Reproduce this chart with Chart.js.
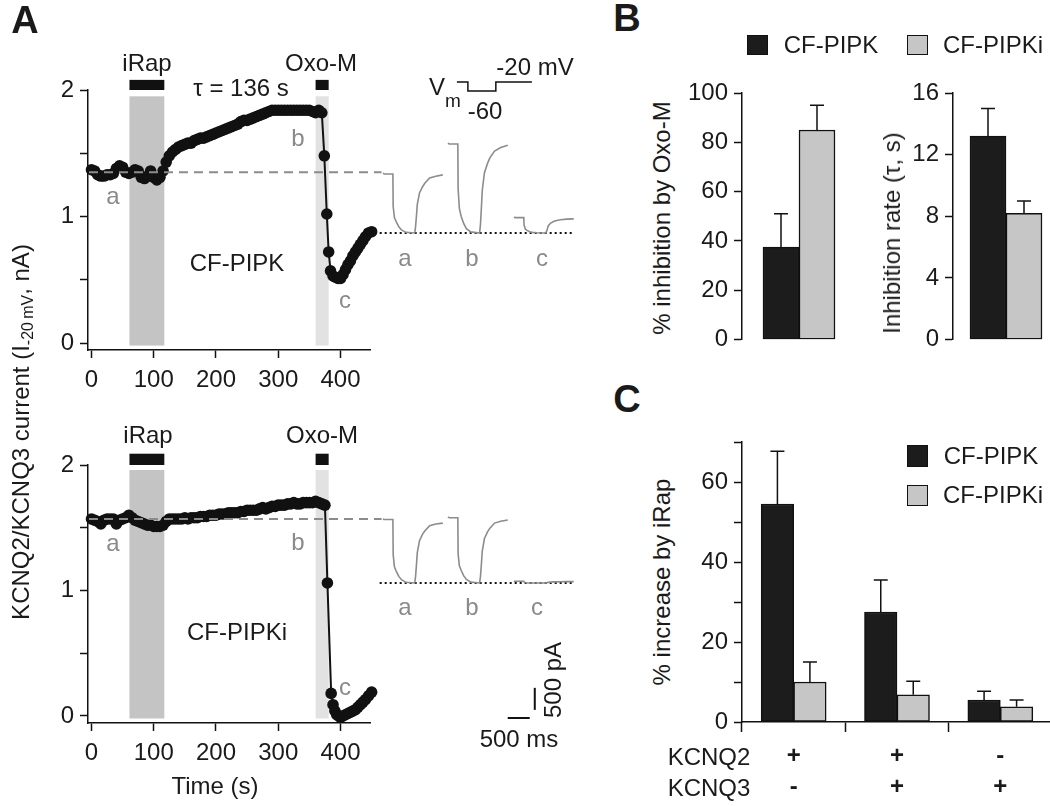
<!DOCTYPE html>
<html>
<head>
<meta charset="utf-8">
<script src="https://cdn.jsdelivr.net/npm/chart.js"></script>
<style>
  html, body { margin: 0; padding: 0; background: #fff; overflow: hidden; }
  body { width: 1050px; height: 806px; position: relative; font-family: "Liberation Sans", Arial, sans-serif; color: #1a1a1a; }
  canvas { position: absolute; }
  .t { position: absolute; white-space: nowrap; transform: translate(-50%, -50%); font-size: 24px; line-height: 1; }
  .rot { transform: translate(-50%, -50%) rotate(-90deg); }
  .gray { color: #8a8a8a; }
  .small { font-size: 19px; }
  .panel { font-weight: bold; font-size: 38px; }
  .sw { position: absolute; box-sizing: border-box; border: 1.5px solid #111; }
  sub { font-size: 16px; vertical-align: -4px; }
</style>
</head>
<body>
<script>
// ---- panel A: current time course (nA) ----
const timeTop = [0,5,10,15,20,25,30,35,40,45,50,55,60,65,70,75,80,85,90,95,100,105,110,115,120,125,130,135,140,145,150,155,160,165,170,175,180,185,190,195,200,205,210,215,220,225,230,235,240,245,250,255,260,265,270,275,280,285,290,295,300,305,310,315,320,325,330,335,340,345,350,355,360,365,370,374,378,381,384,388,392,396,400,404,408,412,416,420,424,428,432,436,440,445,450];
const currTop = [1.37,1.36,1.33,1.32,1.32,1.33,1.33,1.34,1.38,1.40,1.39,1.35,1.34,
  1.35,1.37,1.36,1.31,1.30,1.32,1.36,1.31,1.29,1.31,1.36,
  1.43,1.48,1.51,1.53,1.55,1.56,1.57,1.58,1.58,1.60,1.61,1.62,1.62,1.63,1.64,1.65,1.66,
  1.67,1.68,1.69,1.70,1.71,1.72,1.73,1.75,1.76,1.76,1.77,1.78,1.79,1.80,1.81,1.82,1.83,1.84,1.84,
  1.84,1.84,1.84,1.84,1.84,1.84,1.84,1.84,1.84,1.84,1.84,1.83,1.82,1.84,1.82,
  1.48,1.02,0.72,0.57,0.53,0.52,0.51,0.51,0.54,0.58,0.62,0.65,0.69,0.72,0.75,0.78,0.81,0.84,0.87,0.88];
const timeBot = [0,5,10,15,20,25,30,35,40,45,50,55,60,65,70,75,80,85,90,95,100,105,110,115,120,125,130,135,140,145,150,155,160,165,170,175,180,185,190,195,200,205,210,215,220,225,230,235,240,245,250,255,260,265,270,275,280,285,290,295,300,305,310,315,320,325,330,335,340,345,350,355,360,365,370,375,379,385,388,391,394,397,400,404,408,412,416,420,424,428,432,436,440,445,450];
const currBot = [1.57,1.56,1.55,1.53,1.56,1.57,1.57,1.57,1.53,1.56,1.57,1.58,1.60,
  1.58,1.56,1.55,1.54,1.53,1.52,1.52,1.51,1.51,1.51,1.52,1.55,
  1.57,1.57,1.57,1.57,1.57,1.58,1.57,1.58,1.58,1.58,1.59,1.59,1.59,1.60,1.60,1.60,
  1.61,1.61,1.61,1.62,1.62,1.62,1.62,1.63,1.63,1.64,1.64,1.64,1.64,1.65,1.66,1.65,1.66,1.67,1.67,1.68,
  1.68,1.68,1.69,1.69,1.70,1.69,1.69,1.70,1.70,1.70,1.70,1.71,1.70,1.69,1.68,
  1.06,0.18,0.09,0.04,0.01,0.00,-0.01,0.00,0.01,0.02,0.03,0.04,0.05,0.07,0.09,0.11,0.13,0.16,0.19];
const baselineTop = 1.35;
const baselineBot = 1.57;
const iRapWindow = [61, 117];   // s
const oxoWindow = [360, 381];   // s
const xTicksA = [0, 100, 200, 300, 400];
const yTicksA = [0, 0.5, 1, 1.5, 2];
const yLabelsA = [0, 1, 2];

// ---- panel A insets: current traces (ms, pA above the dotted level) ----
const traceT = [0, 30, 225, 232, 260, 300, 360, 420, 520, 720, 740, 760, 780, 830, 900, 950, 1060, 1200, 1360];
const traceTopA = [1360, 1340, 1340, 600, 350, 260, 140, 70, 15, 0, 135, 380, 650, 910, 1050, 1130, 1250, 1290, 1320];
const traceTopB = [2040, 2020, 2020, 1000, 560, 380, 210, 100, 25, 0, 200, 560, 960, 1370, 1580, 1700, 1860, 1940, 1990];
const traceTopC = [360, 350, 350, 180, 90, 60, 30, 15, 5, 0, 30, 90, 160, 220, 260, 280, 300, 315, 320];
const traceBotA = [1450, 1440, 1440, 640, 370, 270, 150, 75, 15, 0, 140, 400, 690, 960, 1110, 1180, 1300, 1340, 1360];
const traceBotB = [1500, 1480, 1480, 660, 390, 290, 160, 80, 20, 0, 150, 420, 720, 1010, 1160, 1240, 1360, 1400, 1430];
const traceBotC = [40, 40, 40, 20, 10, 5, 0, 0, 0, 0, 5, 10, 15, 20, 25, 25, 28, 30, 30];
const traceStart = [295, 1771, 3270];     // ms, where each sweep sits
const dottedSpan = [220, 4650];
const vmTime = [1975, 2225, 2225, 2860, 2860, 3680];
const vmLevel = [-20, -20, -60, -60, -20, -20];
const barMs = [3130, 3630];      // 500 ms
const barPa = [-2880, -2380];    // 500 pA

// ---- panel B ----
const inhibPct = [37.5, 85];
const inhibPctSem = [13.5, 10];
const inhibTau = [13.2, 8.2];
const inhibTauSem = [1.8, 0.8];

// ---- panel C ----
const kcnqLabels = [['+', '-'], ['+', '+'], ['-', '+']];
const incPipk = [54.5, 27.5, 5.5];
const incPipkSem = [13.2, 8.0, 2.2];
const incPipki = [10, 6.8, 3.8];
const incPipkiSem = [5.0, 3.4, 1.7];

const BLACK = '#1c1c1c';
const GRAY = '#c6c6c6';
const TRACE = '#8c8c8c';

Chart.defaults.font.family = '"Liberation Sans", Arial, sans-serif';
Chart.defaults.font.size = 24;
Chart.defaults.color = '#1a1a1a';
Chart.defaults.animation = false;
Chart.defaults.plugins.legend.display = false;
Chart.defaults.plugins.tooltip.enabled = false;

function makeCanvas(left, top, w, h) {
    const c = document.createElement('canvas');
    c.width = w; c.height = h;
    c.style.left = left + 'px'; c.style.top = top + 'px';
    c.style.width = w + 'px'; c.style.height = h + 'px';
    document.body.appendChild(c);
    return c.getContext('2d');
}

function text(html, x, y, cls) {
    const d = document.createElement('div');
    d.className = 't ' + (cls || '');
    d.innerHTML = html;
    d.style.left = x + 'px'; d.style.top = y + 'px';
    document.body.appendChild(d);
}

function swatch(x, y, w, h, color) {
    const d = document.createElement('div');
    d.className = 'sw';
    d.style.left = x + 'px'; d.style.top = y + 'px';
    d.style.width = w + 'px'; d.style.height = h + 'px';
    d.style.background = color;
    document.body.appendChild(d);
}

function yAxis(min, max, ticks, labelled, width) {
    return {
        min, max,
        afterBuildTicks: s => { s.ticks = ticks.map(v => ({ value: v })); },
        afterFit: s => { s.width = width; },
        ticks: { padding: 6, callback: v => labelled.includes(v) ? String(v) : '' },
        grid: { drawOnChartArea: false, drawTicks: true, tickLength: 8, tickWidth: 1.5, tickColor: '#111' },
        border: { display: true, color: '#111', width: 1.5 }
    };
}

// shaded drug windows and the bars above them
function windowsPlugin(shadeTop, barTop) {
    return {
        id: 'windows',
        beforeDatasetsDraw(chart) {
            const { ctx, scales: { x, y } } = chart;
            ctx.save();
            [[iRapWindow, '#c4c4c4'], [oxoWindow, '#e2e2e2']].forEach(([w, col]) => {
                const x0 = x.getPixelForValue(w[0]);
                const x1 = x.getPixelForValue(w[1]);
                const yt = y.getPixelForValue(shadeTop);
                ctx.fillStyle = col;
                ctx.fillRect(x0, yt, x1 - x0, y.getPixelForValue(-0.02) - yt);
                const bt = y.getPixelForValue(barTop);
                ctx.fillStyle = '#111';
                ctx.fillRect(x0, bt, x1 - x0, y.getPixelForValue(2) - bt);
            });
            ctx.restore();
        }
    };
}

const errorBars = {
    id: 'errorBars',
    afterDatasetsDraw(chart) {
        const { ctx } = chart;
        ctx.save();
        ctx.strokeStyle = '#111';
        ctx.lineWidth = 1.5;
        chart.data.datasets.forEach((ds, i) => {
            if (!ds.errors) return;
            const meta = chart.getDatasetMeta(i);
            const ys = chart.scales[meta.yAxisID];
            meta.data.forEach((bar, j) => {
                const top = ys.getPixelForValue(ds.data[j] + ds.errors[j]);
                ctx.beginPath();
                ctx.moveTo(bar.x, bar.y);
                ctx.lineTo(bar.x, top);
                ctx.moveTo(bar.x - 7, top);
                ctx.lineTo(bar.x + 7, top);
                ctx.stroke();
            });
        });
        ctx.restore();
    }
};

function timeCourse(ctx, times, values, base, yMin, shadeTop, barTop) {
    return new Chart(ctx, {
        type: 'scatter',
        data: {
            datasets: [
                {
                    data: [{ x: -4, y: base }, { x: 466, y: base }],
                    showLine: true, borderColor: TRACE, borderWidth: 2, borderDash: [9, 6],
                    pointRadius: 0, order: 0
                },
                {
                    data: times.map((t, i) => ({ x: t, y: values[i] })),
                    showLine: true, borderColor: '#111', borderWidth: 2,
                    pointRadius: 5.8, pointBackgroundColor: '#111', pointBorderWidth: 0, order: 1
                }
            ]
        },
        options: {
            responsive: false,
            clip: false,
            layout: { padding: { left: 28, top: 90, right: 30, bottom: 0 } },
            scales: {
                x: {
                    type: 'linear', min: -5.6, max: 447.4,
                    afterBuildTicks: s => { s.ticks = xTicksA.map(v => ({ value: v })); },
                    afterFit: s => { s.height = 50; },
                    ticks: { padding: 8, maxRotation: 0 },
                    grid: { drawOnChartArea: false, tickLength: 8, tickWidth: 1.5, tickColor: '#111' },
                    border: { color: '#111', width: 1.5 }
                },
                y: yAxis(yMin, 2, yTicksA, yLabelsA, 60)
            }
        },
        plugins: [windowsPlugin(shadeTop, barTop)]
    });
}

timeCourse(makeCanvas(0, 0, 400, 400), timeTop, currTop, baselineTop, -0.055, 1.95, 2.08);
timeCourse(makeCanvas(0, 375, 400, 398), timeBot, currBot, baselineBot, -0.056, 1.96, 2.09);

function sweeps(list) {
    return list.map((vals, k) => ({
        data: traceT.map((t, i) => ({ x: t + traceStart[k], y: vals[i] })),
        showLine: true, borderColor: TRACE, borderWidth: 1.6, pointRadius: 0
    }));
}
function dotted() {
    return {
        data: dottedSpan.map(x => ({ x, y: 0 })),
        showLine: true, borderColor: '#111', borderWidth: 2, borderDash: [2, 3], pointRadius: 0
    };
}

// top inset: sweeps + voltage protocol
new Chart(makeCanvas(370, 60, 220, 210), {
    type: 'scatter',
    data: {
        datasets: [
            ...sweeps([traceTopA, traceTopB, traceTopC]),
            dotted(),
            {
                data: vmTime.map((t, i) => ({ x: t, y: vmLevel[i] })), yAxisID: 'yV',
                showLine: true, borderColor: '#111', borderWidth: 1.5, pointRadius: 0
            }
        ]
    },
    options: {
        responsive: false, clip: false,
        layout: { padding: 0 },
        scales: {
            x: { type: 'linear', display: false, min: 0, max: 5000 },
            y: { display: false, min: -840, max: 3927 },
            yV: { display: false, min: -855.6, max: 77.8 }
        }
    }
});

// bottom inset: sweeps + scale bars
new Chart(makeCanvas(370, 420, 220, 380), {
    type: 'scatter',
    data: {
        datasets: [
            ...sweeps([traceBotA, traceBotB, traceBotC]),
            dotted(),
            {
                data: barMs.map(x => ({ x, y: -3065 })),
                showLine: true, borderColor: '#111', borderWidth: 2, pointRadius: 0
            },
            {
                data: barPa.map(y => ({ x: 3745, y })),
                showLine: true, borderColor: '#111', borderWidth: 2, pointRadius: 0
            }
        ]
    },
    options: {
        responsive: false, clip: false,
        layout: { padding: 0 },
        scales: {
            x: { type: 'linear', display: false, min: 0, max: 5000 },
            y: { display: false, min: -4926, max: 3700 }
        }
    }
});

// panel B
function pairChart(ctx, values, sems, max, ticks) {
    return new Chart(ctx, {
        type: 'bar',
        data: {
            labels: [''],
            datasets: [
                { label: 'CF-PIPK', data: [values[0]], errors: [sems[0]], backgroundColor: BLACK },
                { label: 'CF-PIPKi', data: [values[1]], errors: [sems[1]], backgroundColor: GRAY }
            ]
        },
        options: {
            responsive: false,
            layout: { padding: { left: 0, top: 93, right: 0, bottom: 16 } },
            datasets: { bar: { barThickness: 36, borderColor: '#111', borderWidth: 1.5, borderSkipped: false } },
            scales: {
                x: { display: false },
                y: yAxis(0, max, ticks, ticks, 60)
            }
        },
        plugins: [errorBars]
    });
}
pairChart(makeCanvas(682, 0, 174, 360), inhibPct, inhibPctSem, 100, [0, 20, 40, 60, 80, 100]);
pairChart(makeCanvas(893, 0, 166, 360), inhibTau, inhibTauSem, 16, [0, 4, 8, 12, 16]);

// panel C
new Chart(makeCanvas(682, 380, 370, 422), {
    type: 'bar',
    data: {
        labels: kcnqLabels,
        datasets: [
            { label: 'CF-PIPK', data: incPipk, errors: incPipkSem, backgroundColor: BLACK },
            { label: 'CF-PIPKi', data: incPipki, errors: incPipkiSem, backgroundColor: GRAY }
        ]
    },
    options: {
        responsive: false,
        layout: { padding: { left: 0, top: 62, right: 0, bottom: 0 } },
        datasets: { bar: { barThickness: 32.5, borderColor: '#111', borderWidth: 1.5, borderSkipped: false } },
        scales: {
            x: {
                afterFit: s => { s.height = 80; },
                ticks: { padding: 9, maxRotation: 0, font: { weight: 'bold', lineHeight: 1.3 } },
                grid: { offset: true, drawOnChartArea: false, tickLength: 10, tickWidth: 1.5, tickColor: '#111' },
                border: { color: '#111', width: 1.5 }
            },
            y: yAxis(0, 70, [0, 10, 20, 30, 40, 50, 60, 70], [0, 20, 40, 60], 60)
        }
    },
    plugins: [errorBars]
});

// ---- texts ----
text('A', 25, 20, 'panel');
text('B', 627, 18, 'panel');
text('C', 627, 399, 'panel');

text('KCNQ2/KCNQ3 current (I<sub>-20&thinsp;mV</sub>, nA)', 22, 432, 'rot');
text('Time (s)', 215, 786);

text('iRap', 147, 63);
text('Oxo-M', 321, 63);
text('&tau; = 136 s', 241, 88);
text('CF-PIPK', 237, 263);
text('a', 113, 196, 'gray');
text('b', 298, 138, 'gray');
text('c', 345, 300, 'gray');

text('iRap', 148, 435);
text('Oxo-M', 322, 435);
text('CF-PIPKi', 237, 632);
text('a', 113, 543, 'gray');
text('b', 298, 542, 'gray');
text('c', 345, 687, 'gray');

text('V', 437, 87);
text('m', 453, 100, 'small');
text('-20 mV', 535, 67);
text('-60', 485, 111);
text('a', 405, 258, 'gray');
text('b', 472, 258, 'gray');
text('c', 542, 258, 'gray');
text('a', 405, 607, 'gray');
text('b', 472, 607, 'gray');
text('c', 537, 607, 'gray');
text('500 pA', 553, 680, 'rot');
text('500 ms', 519, 739);

swatch(747, 35, 21, 20, BLACK);
text('CF-PIPK', 831, 45);
swatch(907, 35, 21, 20, GRAY);
text('CF-PIPKi', 993, 45);
text('% inhibition by Oxo-M', 662, 218, 'rot');
text('Inhibition rate (&tau;, s)', 892, 233, 'rot');

swatch(907, 445, 21, 22, BLACK);
text('CF-PIPK', 991, 456);
swatch(907, 485, 21, 21, GRAY);
text('CF-PIPKi', 993, 495);
text('% increase by iRap', 662, 582, 'rot');
text('KCNQ2', 709, 757);
text('KCNQ3', 709, 788);
</script>
</body>
</html>
